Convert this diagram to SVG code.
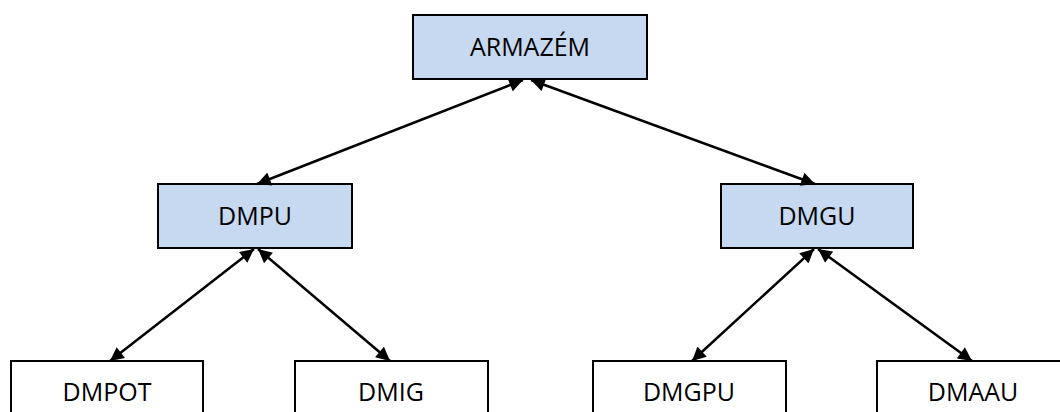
<svg xmlns="http://www.w3.org/2000/svg" width="1060" height="412" viewBox="0 0 1060 412">
<defs>
<style>
.box{stroke:#000;stroke-width:2}
.top{fill:#c6d9f1}
.leaf{fill:#fff}
text{font-family:"Open Sans","Liberation Sans",sans-serif;font-size:25px;fill:#000;text-anchor:middle}
.conn line{stroke:#000;stroke-width:2.5;marker-start:url(#ah);marker-end:url(#ah)}
</style>
<marker id="ah" viewBox="0 0 10 10" refX="10" refY="5" markerWidth="6" markerHeight="5.5" markerUnits="strokeWidth" orient="auto-start-reverse">
<path d="M0,0 L10,5 L0,10 z" fill="#000"/>
</marker>
</defs>
<rect width="1060" height="412" fill="#fff"/>
<g id="armazem"><rect class="box top" x="413" y="15" width="234" height="64"/><text x="530" y="56">ARMAZÉM</text></g>
<g id="dmpu"><rect class="box top" x="158" y="184" width="194" height="64"/><text x="255" y="225">DMPU</text></g>
<g id="dmgu"><rect class="box top" x="721" y="184" width="192" height="64"/><text x="817" y="225">DMGU</text></g>
<g id="dmpot"><rect class="box leaf" x="11" y="361" width="192" height="64"/><text x="107" y="401">DMPOT</text></g>
<g id="dmig"><rect class="box leaf" x="295" y="361" width="193" height="64"/><text x="391" y="401">DMIG</text></g>
<g id="dmgpu"><rect class="box leaf" x="593" y="361" width="193" height="64"/><text x="689" y="401">DMGPU</text></g>
<g id="dmaau"><rect class="box leaf" x="877" y="361" width="193" height="64"/><text x="973" y="401">DMAAU</text></g>
<g class="conn">
<line x1="523" y1="80" x2="257" y2="184"/>
<line x1="531" y1="80" x2="815" y2="184"/>
<line x1="254" y1="249" x2="110" y2="361"/>
<line x1="258" y1="249" x2="390" y2="361"/>
<line x1="814" y1="249" x2="692" y2="361"/>
<line x1="818" y1="249" x2="972" y2="361"/>
</g>
</svg>
